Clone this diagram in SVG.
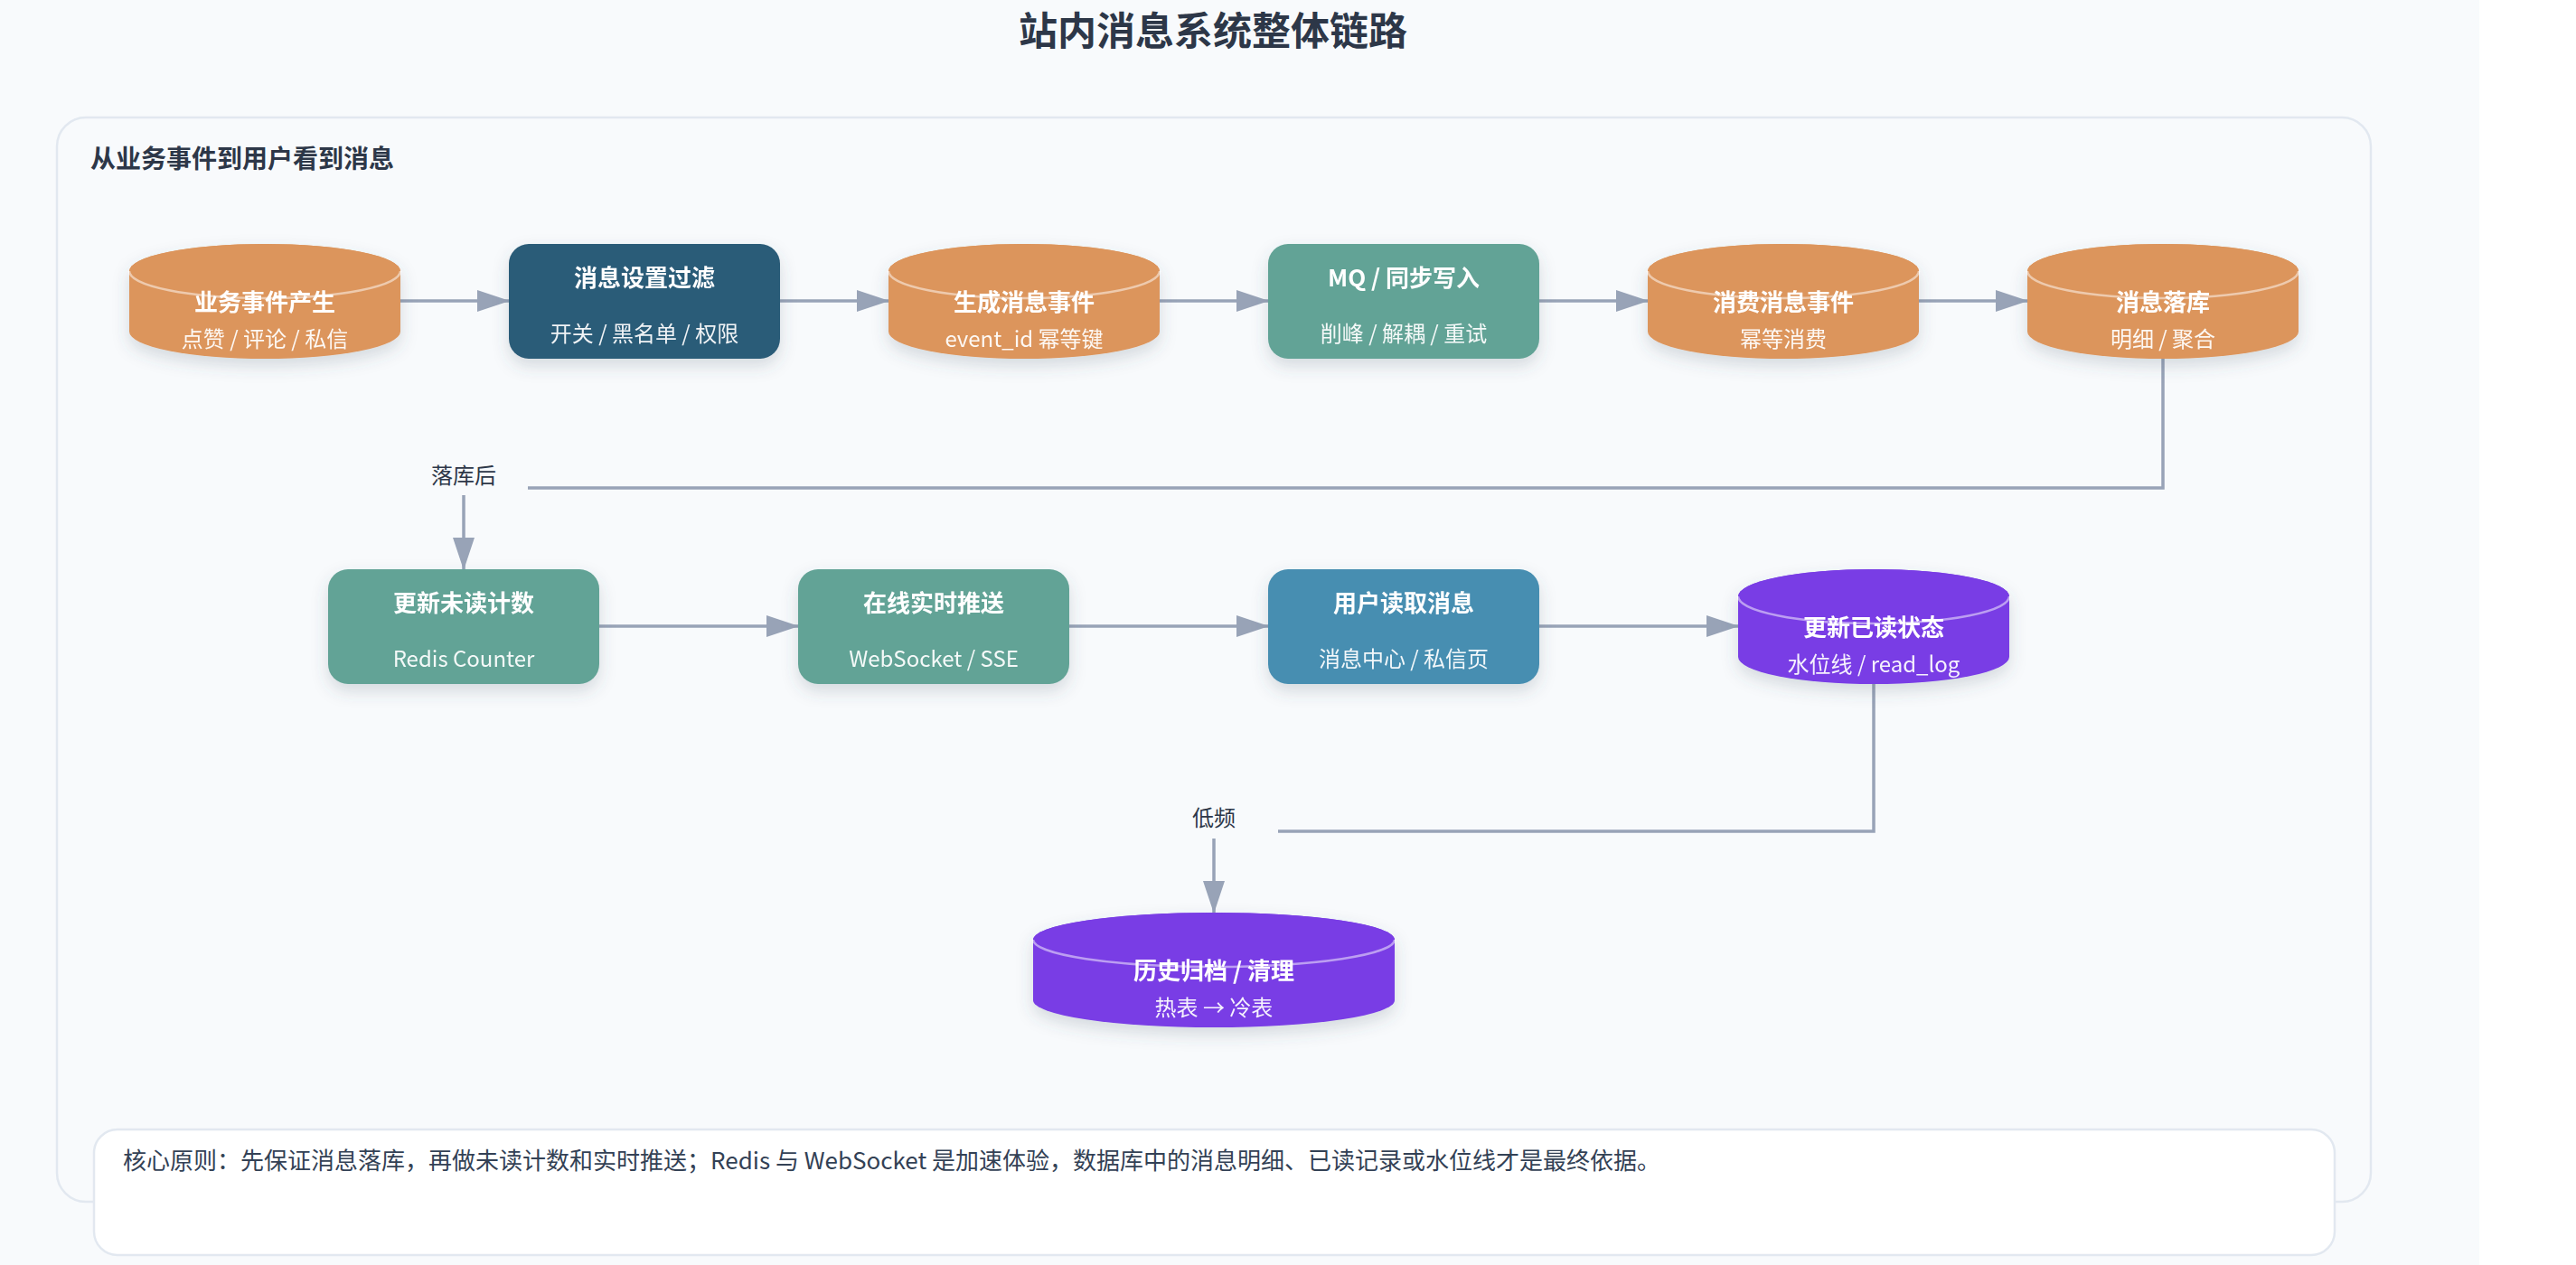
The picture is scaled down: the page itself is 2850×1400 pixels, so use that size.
<svg xmlns="http://www.w3.org/2000/svg" width="2850" height="1400" viewBox="0 0 2850 1400">
<defs>
<style>
text{font-family:"Noto Sans CJK SC","Noto Sans",sans-serif;}
.title{font-size:43px;font-weight:700;fill:#2d3748;text-anchor:middle;}
.heading{font-size:28px;font-weight:700;fill:#2d3748;}
.nt{font-size:26px;font-weight:700;fill:#ffffff;text-anchor:middle;}
.ns{font-size:24px;fill:#ffffff;fill-opacity:0.93;text-anchor:middle;}
.el{font-size:24px;fill:#2d3748;text-anchor:middle;}
.note{font-size:26px;fill:#334155;}
.edge{fill:none;stroke:#98a3b7;stroke-width:3.5;marker-end:url(#arr);}
.hl{fill:none;stroke:#ffffff;stroke-opacity:0.5;stroke-width:2.5;}
.lblbg{fill:#f8fafc;}
.orange{fill:#dc955c;}
.navy{fill:#2a5b78;}
.teal{fill:#62a396;}
.steel{fill:#468eb1;}
.purple{fill:#793de5;}
</style>
<filter id="sh" x="-20%" y="-30%" width="140%" height="170%">
<feDropShadow dx="0" dy="8" stdDeviation="9" flood-color="#475569" flood-opacity="0.2"/>
</filter>
<marker id="arr" viewBox="0 0 36 24" refX="35" refY="12" markerWidth="36" markerHeight="24" markerUnits="userSpaceOnUse" orient="auto">
<path d="M0,0 L36,12 L0,24 Z" fill="#98a3b7"/>
</marker>
</defs>
<rect x="0" y="0" width="2850" height="1400" fill="#ffffff"/>
<rect x="0" y="0" width="2743" height="1400" fill="#f8fafc"/>
<text class="title" x="1342" y="50">站内消息系统整体链路</text>
<rect x="63" y="130" width="2560" height="1200" rx="32" fill="#f8fafc" stroke="#e2e8f0" stroke-width="2.5"/>
<text class="heading" x="100" y="186">从业务事件到用户看到消息</text>

<g id="connectors">
<path class="edge" d="M443,333 H563"/>
<path class="edge" d="M863,333 H983"/>
<path class="edge" d="M1283,333 H1403"/>
<path class="edge" d="M1703,333 H1823"/>
<path class="edge" d="M2123,333 H2243"/>
<path class="edge" d="M2393,397 V540 H513 V630"/>
<path class="edge" d="M663,693 H883"/>
<path class="edge" d="M1183,693 H1403"/>
<path class="edge" d="M1703,693 H1923"/>
<path class="edge" d="M2073,757 V920 H1343 V1010"/>
<rect class="lblbg" x="441" y="504" width="143" height="44"/>
<text class="el" x="513" y="535">落库后</text>
<rect class="lblbg" x="1272" y="884" width="142" height="44"/>
<text class="el" x="1343" y="914">低频</text>
</g>

<g id="n1" filter="url(#sh)">
<path class="orange" d="M143,300 A150,30 0 0 1 443,300 V367 A150,30 0 0 1 143,367 Z"/>
<ellipse class="orange" cx="293" cy="300" rx="150" ry="30"/>
<path class="hl" d="M143,300 A150,30 0 0 0 443,300"/>
<text class="nt" x="293" y="344">业务事件产生</text>
<text class="ns" x="293" y="384">点赞 / 评论 / 私信</text>
</g>
<g id="n2" filter="url(#sh)">
<rect class="navy" x="563" y="270" width="300" height="127" rx="22"/>
<text class="nt" x="713" y="317">消息设置过滤</text>
<text class="ns" x="713" y="378">开关 / 黑名单 / 权限</text>
</g>
<g id="n3" filter="url(#sh)">
<path class="orange" d="M983,300 A150,30 0 0 1 1283,300 V367 A150,30 0 0 1 983,367 Z"/>
<ellipse class="orange" cx="1133" cy="300" rx="150" ry="30"/>
<path class="hl" d="M983,300 A150,30 0 0 0 1283,300"/>
<text class="nt" x="1133" y="344">生成消息事件</text>
<text class="ns" x="1133" y="384">event_id 幂等键</text>
</g>
<g id="n4" filter="url(#sh)">
<rect class="teal" x="1403" y="270" width="300" height="127" rx="22"/>
<text class="nt" x="1553" y="317">MQ / 同步写入</text>
<text class="ns" x="1553" y="378">削峰 / 解耦 / 重试</text>
</g>
<g id="n5" filter="url(#sh)">
<path class="orange" d="M1823,300 A150,30 0 0 1 2123,300 V367 A150,30 0 0 1 1823,367 Z"/>
<ellipse class="orange" cx="1973" cy="300" rx="150" ry="30"/>
<path class="hl" d="M1823,300 A150,30 0 0 0 2123,300"/>
<text class="nt" x="1973" y="344">消费消息事件</text>
<text class="ns" x="1973" y="384">幂等消费</text>
</g>
<g id="n6" filter="url(#sh)">
<path class="orange" d="M2243,300 A150,30 0 0 1 2543,300 V367 A150,30 0 0 1 2243,367 Z"/>
<ellipse class="orange" cx="2393" cy="300" rx="150" ry="30"/>
<path class="hl" d="M2243,300 A150,30 0 0 0 2543,300"/>
<text class="nt" x="2393" y="344">消息落库</text>
<text class="ns" x="2393" y="384">明细 / 聚合</text>
</g>

<g id="n7" filter="url(#sh)">
<rect class="teal" x="363" y="630" width="300" height="127" rx="22"/>
<text class="nt" x="513" y="677">更新未读计数</text>
<text class="ns" x="513" y="738">Redis Counter</text>
</g>
<g id="n8" filter="url(#sh)">
<rect class="teal" x="883" y="630" width="300" height="127" rx="22"/>
<text class="nt" x="1033" y="677">在线实时推送</text>
<text class="ns" x="1033" y="738">WebSocket / SSE</text>
</g>
<g id="n9" filter="url(#sh)">
<rect class="steel" x="1403" y="630" width="300" height="127" rx="22"/>
<text class="nt" x="1553" y="677">用户读取消息</text>
<text class="ns" x="1553" y="738">消息中心 / 私信页</text>
</g>
<g id="n10" filter="url(#sh)">
<path class="purple" d="M1923,660 A150,30 0 0 1 2223,660 V727 A150,30 0 0 1 1923,727 Z"/>
<ellipse class="purple" cx="2073" cy="660" rx="150" ry="30"/>
<path class="hl" d="M1923,660 A150,30 0 0 0 2223,660"/>
<text class="nt" x="2073" y="704">更新已读状态</text>
<text class="ns" x="2073" y="744">水位线 / read_log</text>
</g>
<g id="n11" filter="url(#sh)">
<path class="purple" d="M1143,1040 A200,30 0 0 1 1543,1040 V1107 A200,30 0 0 1 1143,1107 Z"/>
<ellipse class="purple" cx="1343" cy="1040" rx="200" ry="30"/>
<path class="hl" d="M1143,1040 A200,30 0 0 0 1543,1040"/>
<text class="nt" x="1343" y="1084">历史归档 / 清理</text>
<text class="ns" x="1343" y="1124">热表 → 冷表</text>
</g>

<g id="note">
<rect x="104" y="1250" width="2479" height="139" rx="26" fill="#ffffff" stroke="#e2e8f0" stroke-width="2.5"/>
<text class="note" x="136" y="1294">核心原则：先保证消息落库，再做未读计数和实时推送；Redis 与 WebSocket 是加速体验，数据库中的消息明细、已读记录或水位线才是最终依据。</text>
</g>
</svg>
